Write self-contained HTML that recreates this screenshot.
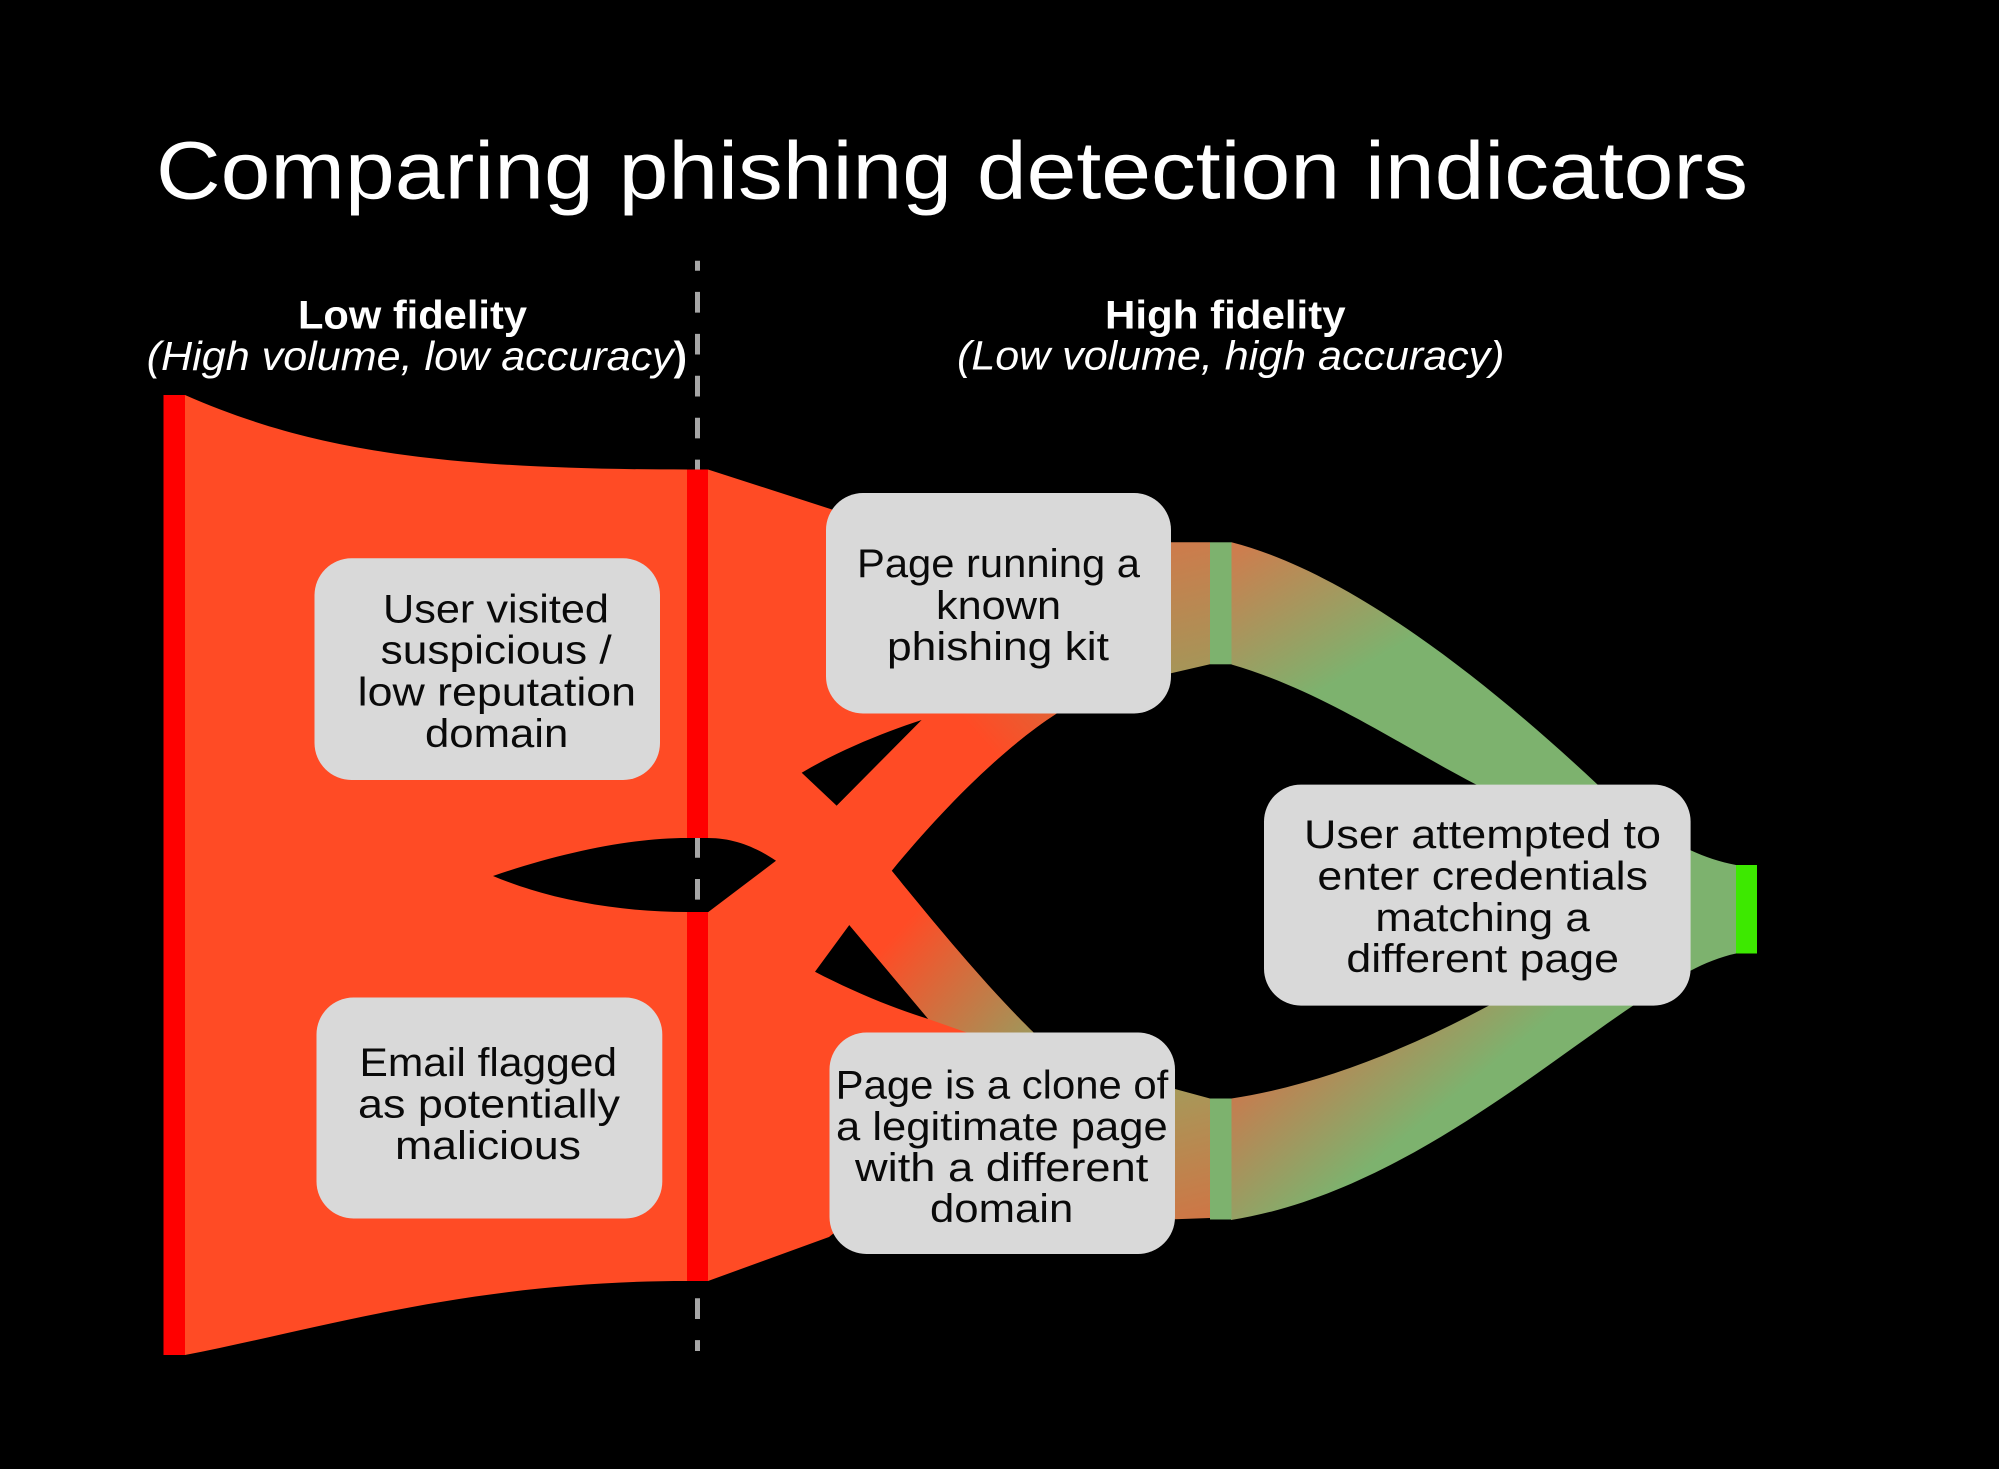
<!DOCTYPE html>
<html lang="en">
<head>
<meta charset="utf-8">
<title>Comparing phishing detection indicators</title>
<style>
html,body{margin:0;padding:0;background:#000;width:1999px;height:1469px;overflow:hidden}
svg{display:block;position:absolute;left:0;top:0}
text{font-family:"Liberation Sans",sans-serif}
.t{font-size:40px;fill:#0a0a0a}
.h{font-size:40px;fill:#fff;font-weight:bold}
.i{font-size:41px;fill:#fff;font-style:italic}
</style>
</head>
<body>
<svg width="1999" height="1469" viewBox="0 0 1999 1469" xmlns="http://www.w3.org/2000/svg">
<defs>
<linearGradient id="gLow" gradientUnits="userSpaceOnUse" x1="896" y1="934" x2="1067" y2="1086"><stop offset="0" stop-color="#FF4B25"/><stop offset="1" stop-color="#7DB26E"/></linearGradient>
<linearGradient id="gUp" gradientUnits="userSpaceOnUse" x1="1000" y1="760" x2="1251" y2="539"><stop offset="0" stop-color="#FF4B25"/><stop offset="1" stop-color="#7DB26E"/></linearGradient>
<linearGradient id="gA" gradientUnits="userSpaceOnUse" x1="1172" y1="540" x2="1205" y2="675"><stop offset="0" stop-color="#CF7A4B"/><stop offset="1" stop-color="#A39759"/></linearGradient>
<linearGradient id="gB" gradientUnits="userSpaceOnUse" x1="1231" y1="542" x2="1317" y2="693"><stop offset="0" stop-color="#D27A4C"/><stop offset="1" stop-color="#7DB26E"/></linearGradient>
<linearGradient id="gC" gradientUnits="userSpaceOnUse" x1="1210" y1="1220" x2="1175" y2="1085"><stop offset="0" stop-color="#CF7545"/><stop offset="1" stop-color="#A59A5A"/></linearGradient>
<linearGradient id="gD" gradientUnits="userSpaceOnUse" x1="1231" y1="1098" x2="1321" y2="1207"><stop offset="0" stop-color="#C67C4F"/><stop offset="1" stop-color="#7DB26E"/></linearGradient>
</defs>
<rect width="1999" height="1469" fill="#000"/>

<!-- dashed divider -->
<line x1="697.5" y1="260.7" x2="697.5" y2="1351" stroke="#A6A6A6" stroke-width="5" stroke-dasharray="20.7 21.23" stroke-dashoffset="10.7"/>

<!-- main orange flow -->
<path fill="#FF4B25" fill-rule="evenodd" d="M185,395 C310,450 440,469.5 687,469.5 L708,469.5 L832,509.5 L1000,600 L1057,713.3 C1000,750 940,812 891.7,870.7 C930,918 985,985 1033.3,1032.3 L1000,1100 L829,1237 L708,1281 L687,1281 C470,1281 320,1329 185,1355 Z
M493,876 C560,853 630,838 687,838 L708,838 C735,838 757,848 776,860.7 L708,912.3 L687,912 C620,912 550,900 493,876 Z
M801.7,772.7 C840,750 885,732 921.7,720 L836.7,805.7 Z
M849.3,925 L815,971.7 C850,990 890,1007 928.3,1019 Z"/>

<!-- gradient branches -->
<path fill="url(#gUp)" d="M921.7,720 L930,705 L1065,705 L1057,713.3 C1000,750 940,812 891.7,870.7 L870,850 L836.7,805.7 Z"/>
<path fill="url(#gLow)" d="M849.3,925 L891.7,870.7 C930,918 985,985 1033.3,1032.3 L1040,1040 L985,1040 L966.7,1032.5 L928.3,1019 Z"/>

<!-- green links -->
<path fill="url(#gA)" d="M1160,542.3 L1210,542.3 L1210,664.3 L1171,673.3 L1160,676 Z"/>
<path fill="url(#gB)" d="M1231.5,542.3 C1340,570 1470,665 1598,785 L1598,800 L1477,800 L1477,785 C1400,745 1320,690 1231.5,664.5 Z"/>
<path fill="url(#gC)" d="M1165,1086 L1175,1089 L1210,1098.5 L1210,1218 L1175,1219.3 L1165,1219.3 Z"/>
<path fill="url(#gD)" d="M1231.5,1098.5 C1320,1085 1410,1048 1490,1005 L1490,990 L1634,990 L1634,1005 C1530,1075 1390,1195 1231,1220 Z"/>
<path fill="#7DB26E" d="M1660,840 L1690,850 C1705,857 1720,862 1736,865 L1736,953.5 C1720,957 1705,963 1690,971 L1660,981 Z"/>

<!-- bars -->
<rect x="163.5" y="395" width="21.5" height="960" fill="#FF0000"/>
<rect x="687" y="469.5" width="21" height="368.5" fill="#FF0000"/>
<rect x="687" y="912" width="21" height="369" fill="#FF0000"/>
<rect x="1210" y="542.3" width="21.5" height="122" fill="#7DB26E"/>
<rect x="1210" y="1098.5" width="21.5" height="121" fill="#7DB26E"/>
<rect x="1736" y="865" width="21" height="88.5" fill="#3DE900"/>

<!-- boxes -->
<rect x="314.5" y="558.3" width="345.5" height="221.7" rx="37" fill="#D9D9D9"/>
<rect x="316.5" y="997.5" width="345.8" height="221" rx="37" fill="#D9D9D9"/>
<rect x="826" y="493" width="345" height="220.5" rx="37" fill="#D9D9D9"/>
<rect x="829.5" y="1032.5" width="345.5" height="221.5" rx="37" fill="#D9D9D9"/>
<rect x="1264" y="784.6" width="426.6" height="221" rx="37" fill="#D9D9D9"/>

<!-- title -->
<text x="156" y="198.5" font-size="82" fill="#fff" textLength="1592" lengthAdjust="spacingAndGlyphs">Comparing phishing detection indicators</text>

<!-- headers -->
<text class="h" x="298" y="328.3" textLength="229" lengthAdjust="spacingAndGlyphs">Low fidelity</text>
<text class="i" x="146.7" y="370" textLength="527" lengthAdjust="spacingAndGlyphs">(High volume, low accuracy</text>
<text x="673.6" y="370" font-size="41" font-weight="bold" fill="#fff" textLength="13.4" lengthAdjust="spacingAndGlyphs">)</text>
<text class="h" x="1105" y="328.3" textLength="240.6" lengthAdjust="spacingAndGlyphs">High fidelity</text>
<text class="i" x="957" y="369.5" textLength="547.5" lengthAdjust="spacingAndGlyphs">(Low volume, high accuracy)</text>

<!-- box labels -->
<text class="t" x="383" y="622.7" textLength="226" lengthAdjust="spacingAndGlyphs">User visited</text>
<text class="t" x="380.7" y="663.7" textLength="231" lengthAdjust="spacingAndGlyphs">suspicious /</text>
<text class="t" x="357.7" y="705.3" textLength="278.3" lengthAdjust="spacingAndGlyphs">low reputation</text>
<text class="t" x="425" y="747" textLength="143.3" lengthAdjust="spacingAndGlyphs">domain</text>

<text class="t" x="359.5" y="1076" textLength="257.5" lengthAdjust="spacingAndGlyphs">Email flagged</text>
<text class="t" x="358" y="1117.5" textLength="262" lengthAdjust="spacingAndGlyphs">as potentially</text>
<text class="t" x="395" y="1159" textLength="186" lengthAdjust="spacingAndGlyphs">malicious</text>

<text class="t" x="857" y="577" textLength="283" lengthAdjust="spacingAndGlyphs">Page running a</text>
<text class="t" x="936" y="619" textLength="125" lengthAdjust="spacingAndGlyphs">known</text>
<text class="t" x="887" y="660" textLength="222" lengthAdjust="spacingAndGlyphs">phishing kit</text>

<text class="t" x="835.7" y="1098.3" textLength="332.6" lengthAdjust="spacingAndGlyphs">Page is a clone of</text>
<text class="t" x="836" y="1139.8" textLength="331.7" lengthAdjust="spacingAndGlyphs">a legitimate page</text>
<text class="t" x="855" y="1181.2" textLength="293.3" lengthAdjust="spacingAndGlyphs">with a different</text>
<text class="t" x="930" y="1222.2" textLength="143.3" lengthAdjust="spacingAndGlyphs">domain</text>

<text class="t" x="1304" y="848" textLength="357" lengthAdjust="spacingAndGlyphs">User attempted to</text>
<text class="t" x="1317.4" y="889.5" textLength="330.6" lengthAdjust="spacingAndGlyphs">enter credentials</text>
<text class="t" x="1375.4" y="931" textLength="214.3" lengthAdjust="spacingAndGlyphs">matching a</text>
<text class="t" x="1346.4" y="972" textLength="272.6" lengthAdjust="spacingAndGlyphs">different page</text>
</svg>
</body>
</html>
